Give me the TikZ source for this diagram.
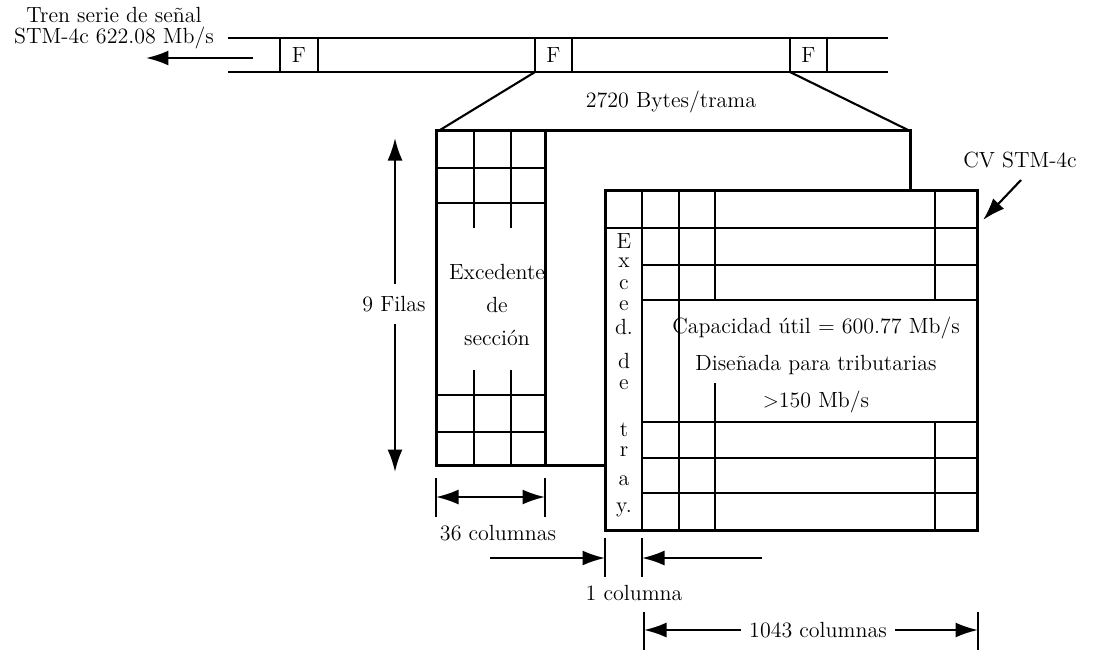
\documentclass[tikz,border=0pt]{standalone}
\usepackage{tikz}
\usetikzlibrary{arrows.meta,positioning}

\begin{document}
\begin{tikzpicture}[x=0.02cm, y=-0.02cm,
  frame/.style={line width=1.7pt},
  grid/.style={line width=1.2pt},
  arr/.style={-{Latex[length=4.5mm,width=3mm]}, line width=1.2pt},
  dim/.style={{Latex[length=4.5mm,width=3mm]}-{Latex[length=4.5mm,width=3mm]}, line width=1.2pt},
  tick/.style={line width=1.1pt},
  lab/.style={font=\fontsize{12.5}{15}\selectfont, inner sep=1pt}]
  \useasboundingbox (0,0) rectangle (1101,650);

  % signal train
  \node[lab, align=center, font=\fontsize{12.5}{12}\selectfont] (tren) at (114,28) {Tren serie de se\~nal\\STM-4c 622.08 Mb/s};
  \draw[grid] (228,38) -- (888,38) (228,72) -- (888,72);
  \foreach \xa/\xb/\nm in {280/318/f1, 535/572/f2, 790/827/f3} {
    \draw[grid] (\xa,38) -- (\xa,72) (\xb,38) -- (\xb,72);
    \node[lab] (\nm) at ({(\xa+\xb)/2},55) {F};
  }
  \coordinate (sfrom) at (253,58);
  \coordinate (sto) at (146,58);
  \draw[arr] (sfrom) -- (sto);

  % expansion of one frame
  \draw[grid] (535,72) -- (440,130) (790,72) -- (908,130);
  \node[lab] (bytes) at (671,102) {2720 Bytes/trama};

  % section overhead (back frame)
  \draw[frame] (605,465) -- (436,465) -- (436,130) -- (910,130) -- (910,190);
  \draw[frame] (545,130) -- (545,465);
  \foreach \yy in {168,203,395,432}
    \draw[grid] (436,\yy) -- (545,\yy);
  \foreach \xx in {474,511} {
    \draw[grid] (\xx,130) -- (\xx,228);
    \draw[grid] (\xx,370) -- (\xx,465);
  }
  \node[lab, align=center, font=\fontsize{12.5}{19}\selectfont] (soh) at (497,305) {Excedente\\de\\secci\'on};

  \node[lab] (filas) at (394,304) {9 Filas};
  \coordinate (ftop) at (395,138);
  \coordinate (fbot) at (395,472);
  \draw[arr] (395,284) -- (ftop);
  \draw[arr] (395,324) -- (fbot);

  % STM-4c container (front frame)
  \draw[frame, fill=white] (605,190) rectangle (977,530);
  \draw[grid] (605,228) -- (977,228);
  \foreach \yy in {265,300,422,458,493}
    \draw[grid] (642,\yy) -- (977,\yy);
  \draw[grid] (642,190) -- (642,530) (679,190) -- (679,530);
  \draw[grid] (715,190) -- (715,300) (715,383) -- (715,530);
  \draw[grid] (935,190) -- (935,300) (935,422) -- (935,530);
  \foreach \ch/\yy [count=\i] in {E/241, x/263, c/285, e/306, d./327, d/361, e/385, t/430, r/452, a/481, y./510}
    \node[lab] (poh\i) at (624,\yy) {\ch};
  \node[lab, align=center, font=\fontsize{12.5}{21}\selectfont] (pay) at (816,365) {Capacidad \'util = 600.77 Mb/s\\Dise\~nada para tributarias\\$>$150 Mb/s};

  \node[lab] (cv) at (1020,160) {CV STM-4c};
  \coordinate (cvtip) at (983,220);
  \draw[arr] (1021,180) -- (cvtip);

  % column counts
  \draw[tick] (436,478) -- (436,517) (545,478) -- (545,517);
  \coordinate (c36a) at (436,497);
  \coordinate (c36b) at (545,497);
  \draw[dim] (c36a) -- (c36b);
  \node[lab] (n36) at (498,533) {36 columnas};

  \draw[tick] (605,538) -- (605,577) (642,538) -- (642,577);
  \coordinate (c1l) at (490,558);
  \coordinate (c1a) at (605,558);
  \coordinate (c1r) at (762,558);
  \coordinate (c1b) at (642,558);
  \draw[arr] (c1l) -- (c1a);
  \draw[arr] (c1r) -- (c1b);
  \node[lab] (n1) at (634,593) {1 columna};

  \draw[tick] (644,612) -- (644,650) (978,612) -- (978,650);
  \node[lab] (n1043) at (818,630) {1043 columnas};
  \coordinate (c43a) at (644,630);
  \coordinate (c43b) at (978,630);
  \draw[arr] (n1043.west) ++(-6,0) -- (c43a);
  \draw[arr] (n1043.east) ++(6,0) -- (c43b);
\end{tikzpicture}
\end{document}
